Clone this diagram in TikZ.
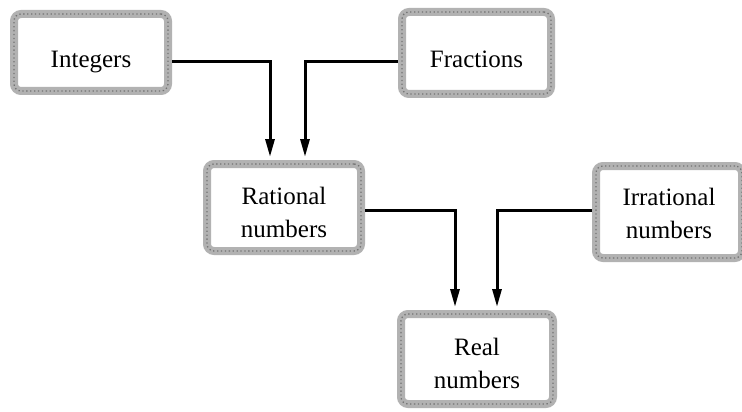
\documentclass[tikz,border=0pt]{standalone}
\usepackage{fontspec}
\setmainfont{Liberation Serif}
\usetikzlibrary{arrows.meta}
\begin{document}
\begin{tikzpicture}[x=1pt,y=-1pt,
  box/.style={draw=gray!60,line width=8pt,rounded corners=7pt,fill=white,
    align=center,inner sep=0pt,font=\fontsize{25}{33}\selectfont,
    postaction={draw=black!55,line width=1.3pt,dash pattern=on 1.3pt off 2.6pt}},
  conn/.style={line width=3pt,-{Triangle[length=18pt,width=9pt]}}]
\useasboundingbox (0,0) rectangle (742,412);
\node[box,minimum width=154pt,minimum height=77pt,text height=29pt,text depth=0pt] (int) at (91,52.5) {Integers};
\node[box,minimum width=149pt,minimum height=82pt,text height=28pt,text depth=0pt] (fra) at (476.5,53) {Fractions};
\node[box,minimum width=154pt,minimum height=87pt,text height=59pt,text depth=0pt] (rat) at (284,207.5) {Rational\\numbers};
\node[box,minimum width=146pt,minimum height=92pt,text height=52pt,text depth=0pt] (irr) at (669,212) {Irrational\\numbers};
\node[box,minimum width=152pt,minimum height=90pt,text height=58pt,text depth=0pt] (rea) at (477,359) {Real\\numbers};
\coordinate (a1) at (270,157);
\coordinate (a2) at (305,157);
\coordinate (a3) at (455,307);
\coordinate (a4) at (497,307);
\coordinate (s1) at (0,62);
\coordinate (s2) at (0,210);
\draw[conn] (int.east |- s1) -| (a1);
\draw[conn] (fra.west |- s1) -| (a2);
\draw[conn] (rat.east |- s2) -| (a3);
\draw[conn] (irr.west |- s2) -| (a4);
\end{tikzpicture}
\end{document}
